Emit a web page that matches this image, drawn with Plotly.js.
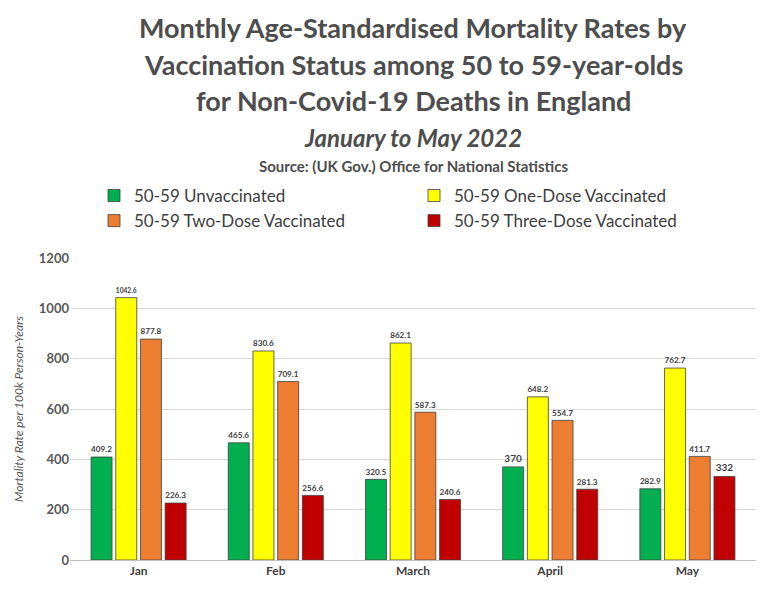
<!DOCTYPE html>
<html>
<head>
<script src="https://cdn.plot.ly/plotly-3.0.1.min.js"></script>
</head>
<body style="margin:0">
<div id="chart" style="width:768px;height:595px"></div>
<script>
var months = ["Jan", "Feb", "March", "April", "May"];
var unvaccinated = [409.2, 465.6, 320.5, 370, 282.9];
var oneDose = [1042.6, 830.6, 862.1, 648.2, 762.7];
var twoDose = [877.8, 709.1, 587.3, 554.7, 411.7];
var threeDose = [226.3, 256.6, 240.6, 281.3, 332];

var names = ["50-59 Unvaccinated", "50-59 One-Dose Vaccinated", "50-59 Two-Dose Vaccinated", "50-59 Three-Dose Vaccinated"];
var colors = ["#00B050", "#FFFF00", "#ED7D31", "#C00000"];
var series = [unvaccinated, oneDose, twoDose, threeDose];

var data = series.map(function (vals, i) {
    return {
        type: 'bar',
        x: months,
        y: vals,
        name: names[i],
        marker: {color: colors[i], line: {color: '#404040', width: 0.8}},
        text: vals.map(String),
        textposition: 'outside',
        cliponaxis: false,
        textfont: {family: 'Lato, sans-serif', size: 10, color: '#404040', weight: 'bold'},
        hoverinfo: 'y'
    };
});

var layout = {
    width: 768, height: 595,
    margin: {l: 70, r: 12, t: 258, b: 35},
    paper_bgcolor: 'white', plot_bgcolor: 'white',
    barmode: 'group', bargap: 0.28, bargroupgap: 0.15,
    showlegend: true,
    legend: {
        orientation: 'h', x: 0.035, y: 1.265, xanchor: 'left', yanchor: 'top',
        entrywidth: 275, entrywidthmode: 'pixels',
        font: {family: 'Lato, sans-serif', size: 17, color: '#404040'},
        traceorder: 'normal'
    },
    xaxis: {
        tickfont: {family: 'Lato, sans-serif', size: 12, color: '#404040', weight: 'bold'},
        showline: true, linecolor: '#bfbfbf'
    },
    yaxis: {
        range: [0, 1200], dtick: 200,
        gridcolor: '#d9d9d9', zeroline: false,
        tickfont: {family: 'Lato, sans-serif', size: 13, color: '#595959', weight: 'bold'},
        title: {text: '<i>Mortality Rate per 100k Person-Years</i>', standoff: 12,
                font: {family: 'Lato, sans-serif', size: 12, color: '#595959'}}
    },
    annotations: [
        {text: 'Monthly Age-Standardised Mortality Rates by', y: 28},
        {text: 'Vaccination Status among 50 to 59-year-olds', y: 64},
        {text: 'for Non-Covid-19 Deaths in England', y: 100},
        {text: '<i>January to May 2022</i>', y: 137, size: 24},
        {text: 'Source: (UK Gov.) Office for National Statistics', y: 166, size: 15}
    ].map(function (a) {
        return {
            text: a.text, xref: 'paper', yref: 'paper', x: 0.5,
            y: 1 + (258 - a.y) / 302, xanchor: 'center', yanchor: 'middle',
            showarrow: false,
            font: {family: 'Lato, sans-serif', size: a.size || 27, color: '#4d4d4d', weight: 'bold'}
        };
    })
};

Plotly.newPlot('chart', data, layout, {displayModeBar: false});
</script>
</body>
</html>
